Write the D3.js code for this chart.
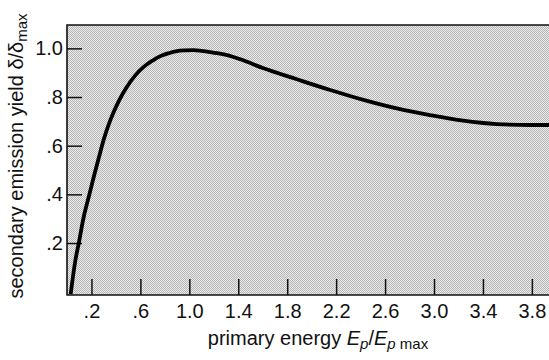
<!DOCTYPE html>
<meta charset="utf-8">
<html>
  <head>
    <script src="https://d3js.org/d3.v7.min.js"></script>
    <style>
      body { margin: 0; background: #fff; }
      svg { display: block; font-family: "Liberation Sans", Arial, sans-serif; }
      .tick text { font-size: 20px; fill: #111; }
      .tick line { stroke: #111; stroke-width: 1.5px; }
      .label { font-size: 20px; fill: #111; }
    </style>
  </head>
  <body>
    <svg id="chart" width="549" height="360"></svg>

    <script>
      // primary energy E_p / E_p max  vs  secondary emission yield delta / delta max
      const energy = [0.03, 0.069, 0.096, 0.137, 0.178, 0.219, 0.26, 0.30, 0.355, 0.42, 0.49, 0.56,
                      0.627, 0.70, 0.763, 0.83, 0.899, 0.97, 1.035, 1.10, 1.171, 1.24, 1.308, 1.416,
                      1.607, 1.879, 2.151, 2.423, 2.696, 2.967, 3.239, 3.512, 3.784, 3.94];
      const yieldRatio = [-0.01, 0.13, 0.199, 0.308, 0.39, 0.472, 0.55, 0.625, 0.706, 0.78, 0.842, 0.89,
                          0.924, 0.95, 0.968, 0.98, 0.989, 0.992, 0.993, 0.99, 0.985, 0.979, 0.972, 0.955,
                          0.918, 0.873, 0.829, 0.788, 0.753, 0.726, 0.703, 0.689, 0.685, 0.685];
      const xTicks = [0.2, 0.6, 1.0, 1.4, 1.8, 2.2, 2.6, 3.0, 3.4, 3.8];
      const xTickLabels = [".2", ".6", "1.0", "1.4", "1.8", "2.2", "2.6", "3.0", "3.4", "3.8"];
      const yTicks = [0.2, 0.4, 0.6, 0.8, 1.0];
      const yTickLabels = [".2", ".4", ".6", ".8", "1.0"];

      const margin = {top: 25, right: 0, bottom: 65, left: 67};
      const width = 549 - margin.left - margin.right;
      const height = 360 - margin.top - margin.bottom;

      const svg = d3.select("#chart");

      // stippled grey background
      const pat = svg.append("defs").append("pattern")
        .attr("id", "stipple")
        .attr("patternUnits", "userSpaceOnUse")
        .attr("width", 2).attr("height", 2);
      pat.append("rect").attr("width", 2).attr("height", 2).attr("fill", "#ececec");
      pat.append("rect").attr("width", 1).attr("height", 1).attr("fill", "#b4b4b4");
      pat.append("rect").attr("x", 1).attr("y", 1).attr("width", 1).attr("height", 1).attr("fill", "#b4b4b4");

      const g = svg.append("g").attr("transform", `translate(${margin.left},${margin.top})`);

      const x = d3.scaleLinear().domain([0, 3.94]).range([0, width]);
      const y = d3.scaleLinear().domain([-0.0136, 1.096]).range([height, 0]);

      g.append("rect")
        .attr("width", width).attr("height", height)
        .attr("fill", "url(#stipple)");

      // axes with inward ticks
      const xAxis = g.append("g")
        .attr("transform", `translate(0,${height})`)
        .call(d3.axisBottom(x).tickValues(xTicks)
          .tickFormat((d, i) => xTickLabels[i])
          .tickSize(-16).tickSizeOuter(0).tickPadding(9));
      xAxis.select(".domain").remove();

      const yAxis = g.append("g")
        .call(d3.axisLeft(y).tickValues(yTicks)
          .tickFormat((d, i) => yTickLabels[i])
          .tickSize(-15).tickSizeOuter(0).tickPadding(4));
      yAxis.select(".domain").remove();

      // frame: top, left, bottom
      g.append("path")
        .attr("d", `M${width},0H0V${height}H${width}`)
        .attr("fill", "none")
        .attr("stroke", "#111")
        .attr("stroke-width", 1.6);

      // curve
      const pts = energy.map((e, i) => [e, yieldRatio[i]]);
      g.append("path")
        .datum(pts)
        .attr("fill", "none")
        .attr("stroke", "#000")
        .attr("stroke-width", 3.8)
        .attr("d", d3.line()
          .x(d => x(d[0]))
          .y(d => y(d[1]))
          .curve(d3.curveMonotoneX));

      // x label
      const xl = svg.append("text")
        .attr("class", "label")
        .attr("x", 318)
        .attr("y", 345)
        .attr("text-anchor", "middle");
      xl.append("tspan").text("primary energy ");
      xl.append("tspan").attr("font-style", "italic").text("E");
      xl.append("tspan").attr("font-style", "italic").attr("font-size", 15).attr("dy", 4).text("p");
      xl.append("tspan").attr("dy", -4).text("/");
      xl.append("tspan").attr("font-style", "italic").text("E");
      xl.append("tspan").attr("font-style", "italic").attr("font-size", 15).attr("dy", 4).text("p");
      xl.append("tspan").attr("font-size", 15).text(" max");

      // y label
      const yl = svg.append("text")
        .attr("class", "label")
        .attr("transform", "translate(23,156) rotate(-90)")
        .attr("text-anchor", "middle");
      yl.append("tspan").text("secondary emission yield δ/δ");
      yl.append("tspan").attr("font-size", 15).attr("dy", 4).text("max");
    </script>
  </body>
</html>
